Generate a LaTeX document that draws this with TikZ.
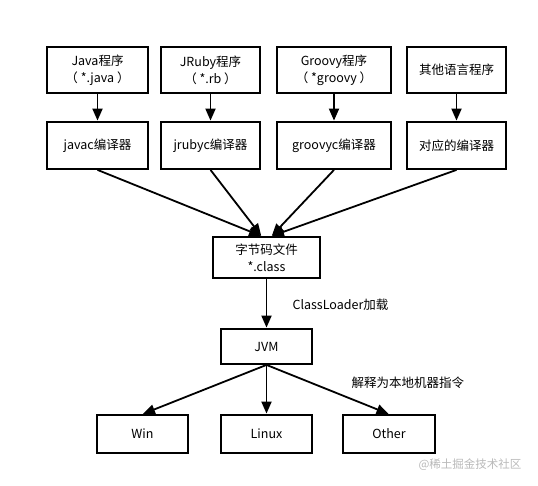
\documentclass[tikz,border=0pt]{standalone}
\usepackage{fontspec}
\setmainfont{Noto Sans CJK SC}
\usetikzlibrary{arrows.meta}

\begin{document}
\begin{tikzpicture}[x=1pt, y=-1pt, >={Triangle[length=12pt,width=10pt]},
    every node/.style={font=\fontsize{12.5}{17}\selectfont},
    box/.style={draw, line width=1.8pt, inner sep=0pt, align=center, minimum height=46pt},
    link/.style={->, line width=1.8pt, shorten >=0.5pt}]
    \useasboundingbox (0,0) rectangle (538,485);

    % source programs
    \node[box, minimum width=101pt] (java)   at (97.5,70)  {Java程序\\（ *.java ）};
    \node[box, minimum width=99pt]  (jruby)  at (210.5,70) {JRuby程序\\（ *.rb ）};
    \node[box, minimum width=114pt] (groovy) at (334,70)   {Groovy程序\\（ *groovy ）};
    \node[box, minimum width=99pt]  (other)  at (456.5,70) {其他语言程序};

    % compilers
    \node[box, minimum width=101pt, minimum height=47pt] (javac)   at (97.5,145.5)  {javac编译器};
    \node[box, minimum width=99pt,  minimum height=47pt] (jrubyc)  at (210.5,145.5) {jrubyc编译器};
    \node[box, minimum width=114pt, minimum height=47pt] (groovyc) at (334,145.5)   {groovyc编译器};
    \node[box, minimum width=99pt,  minimum height=47pt] (otherc)  at (456.5,145.5) {对应的编译器};

    \draw[link] (java) -- (javac);
    \draw[link] (jruby) -- (jrubyc);
    \draw[link] (groovy) -- (groovyc);
    \draw[link] (other) -- (otherc);

    \node[box, minimum width=107pt, minimum height=41pt] (class) at (266.5,257.5) {字节码文件\\*.class};

    \draw[link] (javac.south) -- ([xshift=-5pt]class.north);
    \draw[link] (jrubyc.south) -- ([xshift=-5pt]class.north);
    \draw[link] (groovyc.south) -- ([xshift=5pt]class.north);
    \draw[link] (otherc.south) -- ([xshift=5pt]class.north);

    \node[box, minimum width=91pt, minimum height=35pt] (jvm) at (266.5,346.5) {JVM};
    \draw[link] (class) -- (jvm);
    \node[anchor=west] (load) at (289,305) {ClassLoader加载};

    % platforms
    \node[box, minimum width=91pt, minimum height=38pt] (win)   at (142.5,434) {Win};
    \node[box, minimum width=91pt, minimum height=38pt] (linux) at (266.5,434) {Linux};
    \node[box, minimum width=92pt, minimum height=38pt] (oth)   at (389,434)   {Other};

    \draw[link] (jvm.south) -- (win.north);
    \draw[link] (jvm.south) -- (linux.north);
    \draw[link] (jvm.south) -- (oth.north);
    \node[anchor=west] (interp) at (348,383) {解释为本地机器指令};

    \node[anchor=east, text=gray!55, font=\fontsize{11.5}{14}\selectfont] (mark) at (525,465) {@稀土掘金技术社区};
\end{tikzpicture}
\end{document}
